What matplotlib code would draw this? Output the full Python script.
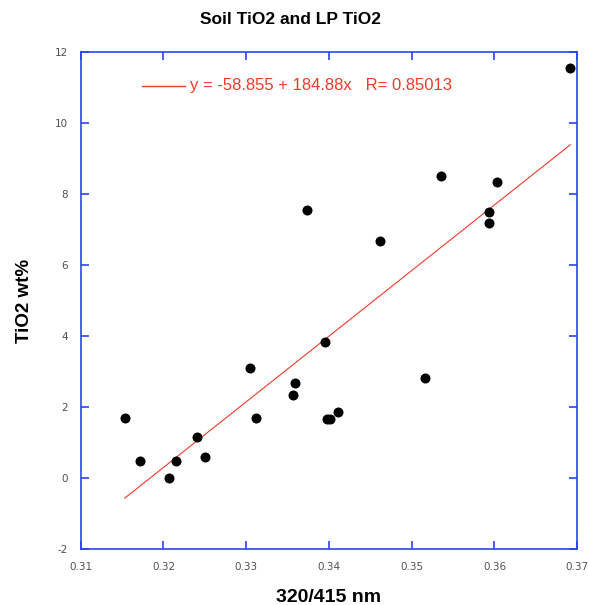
import matplotlib
matplotlib.use("Agg")
import matplotlib.pyplot as plt
import numpy as np

plt.rcParams['font.family'] = ['Liberation Sans', 'DejaVu Sans']

ratio = [0.31532, 0.31713, 0.32071, 0.32149, 0.32410, 0.32499, 0.33047, 0.33116,
         0.33563, 0.33585, 0.33733, 0.33948, 0.33982, 0.34015, 0.34115, 0.34619,
         0.35163, 0.35353, 0.35933, 0.35933, 0.36034, 0.36917]
tio2 = [1.71, 0.49, 0.00, 0.49, 1.16, 0.61, 3.11, 1.71,
        2.36, 2.68, 7.55, 3.84, 1.67, 1.67, 1.86, 6.69,
        2.83, 8.51, 7.51, 7.19, 8.36, 11.55]
intercept = -58.855
slope = 184.88
r_value = 0.85013

xticks = [0.31, 0.32, 0.33, 0.34, 0.35, 0.36, 0.37]
yticks = [-2, 0, 2, 4, 6, 8, 10, 12]

fig = plt.figure(figsize=(5.89, 6.05), dpi=100)
ax = fig.add_axes([0.137, 0.092, 0.843, 0.8215])

ax.scatter(ratio, tio2, s=52, color='black', zorder=3, linewidths=0)
xl = np.array([min(ratio), max(ratio)])
ax.plot(xl, intercept + slope * xl, color='#f03a2a', lw=0.8, zorder=2)

ax.set_xlim(0.31, 0.37)
ax.set_ylim(-2, 12)
ax.set_xticks(xticks)
ax.set_xticklabels([f"{v:g}" for v in xticks])
ax.set_yticks(yticks)
ax.set_yticklabels([str(v) for v in yticks])

blue = '#2a45ef'
for s in ax.spines.values():
    s.set_color(blue)
    s.set_linewidth(1.2)
ax.tick_params(direction='in', length=6, width=1.2, color=blue,
               top=True, right=True, labelsize=7.5, labelcolor='#505050', pad=9)
for lab in ax.get_xticklabels() + ax.get_yticklabels():
    lab.set_family('DejaVu Sans')

ax.set_xlabel('320/415 nm', fontsize=14, fontweight='bold', labelpad=12)
ax.set_ylabel('TiO2 wt%', fontsize=13.5, fontweight='bold', labelpad=16)
fig.text(0.494, 1 - 19 / 605, 'Soil TiO2 and LP TiO2', fontsize=12.5,
         fontweight='bold', ha='center', va='center')

# legend-like annotation
ax.plot([0.31745, 0.3226], [11.06, 11.06], color='#f03a2a', lw=1.0)
ax.text(0.3232, 11.06, f"y = {intercept:g} + {slope:g}x   R= {r_value:g}",
        color='#f03a2a', fontsize=12, va='center', ha='left')

fig.savefig('out.png', dpi=100)
